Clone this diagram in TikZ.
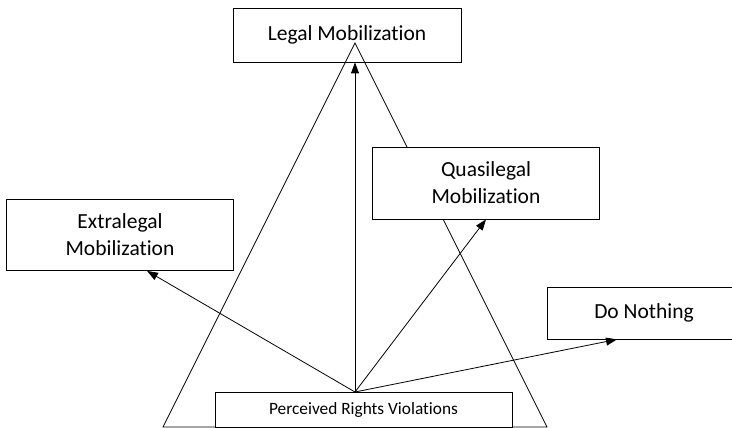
\documentclass[tikz,border=0pt]{standalone}
\usepackage{fontspec}
\setmainfont[Ligatures=NoCommon]{Carlito}
\usetikzlibrary{arrows.meta}
\tikzset{
  outcome/.style={draw, fill=white, align=center, inner sep=0pt,
    font=\fontsize{21.5}{27}\selectfont},
}

\begin{document}
\begin{tikzpicture}[x=1pt, y=-1pt, line width=0.8pt,
    >={Triangle[length=11pt, width=8pt]}]
  \useasboundingbox (0,0) rectangle (732,428);
  % Nodes
  \node[outcome, minimum width=228pt, minimum height=54pt] (legal) at (347,35) {Legal Mobilization};
  \coordinate (apex) at (355,43);
  \coordinate (baseL) at (163,427);
  \coordinate (baseR) at (547,427);
  \draw (apex) -- (baseL) -- (baseR) -- cycle;
  \node[outcome, minimum width=227pt, minimum height=72pt] (quasi) at (486,183) {Quasilegal\\Mobilization};
  \node[outcome, minimum width=227pt, minimum height=71pt] (extra) at (120,235) {Extralegal\\Mobilization};
  \node[outcome, minimum width=194pt, minimum height=52pt] (nothing) at (644,313) {Do Nothing};
  \node[outcome, minimum width=297pt, minimum height=35pt, font=\fontsize{17.3}{20}\selectfont] (rights) at (363.5,409.5) {Perceived Rights Violations};
  \coordinate (src) at (355,392);

  \draw[->] (src) -- (src |- legal.south);
  \draw[->] (src) -- ([xshift=27pt]extra.south);
  \draw[->] (src) -- (quasi.south);
  \draw[->] (src) -- ([xshift=-27pt]nothing.south);

\end{tikzpicture}
\end{document}
